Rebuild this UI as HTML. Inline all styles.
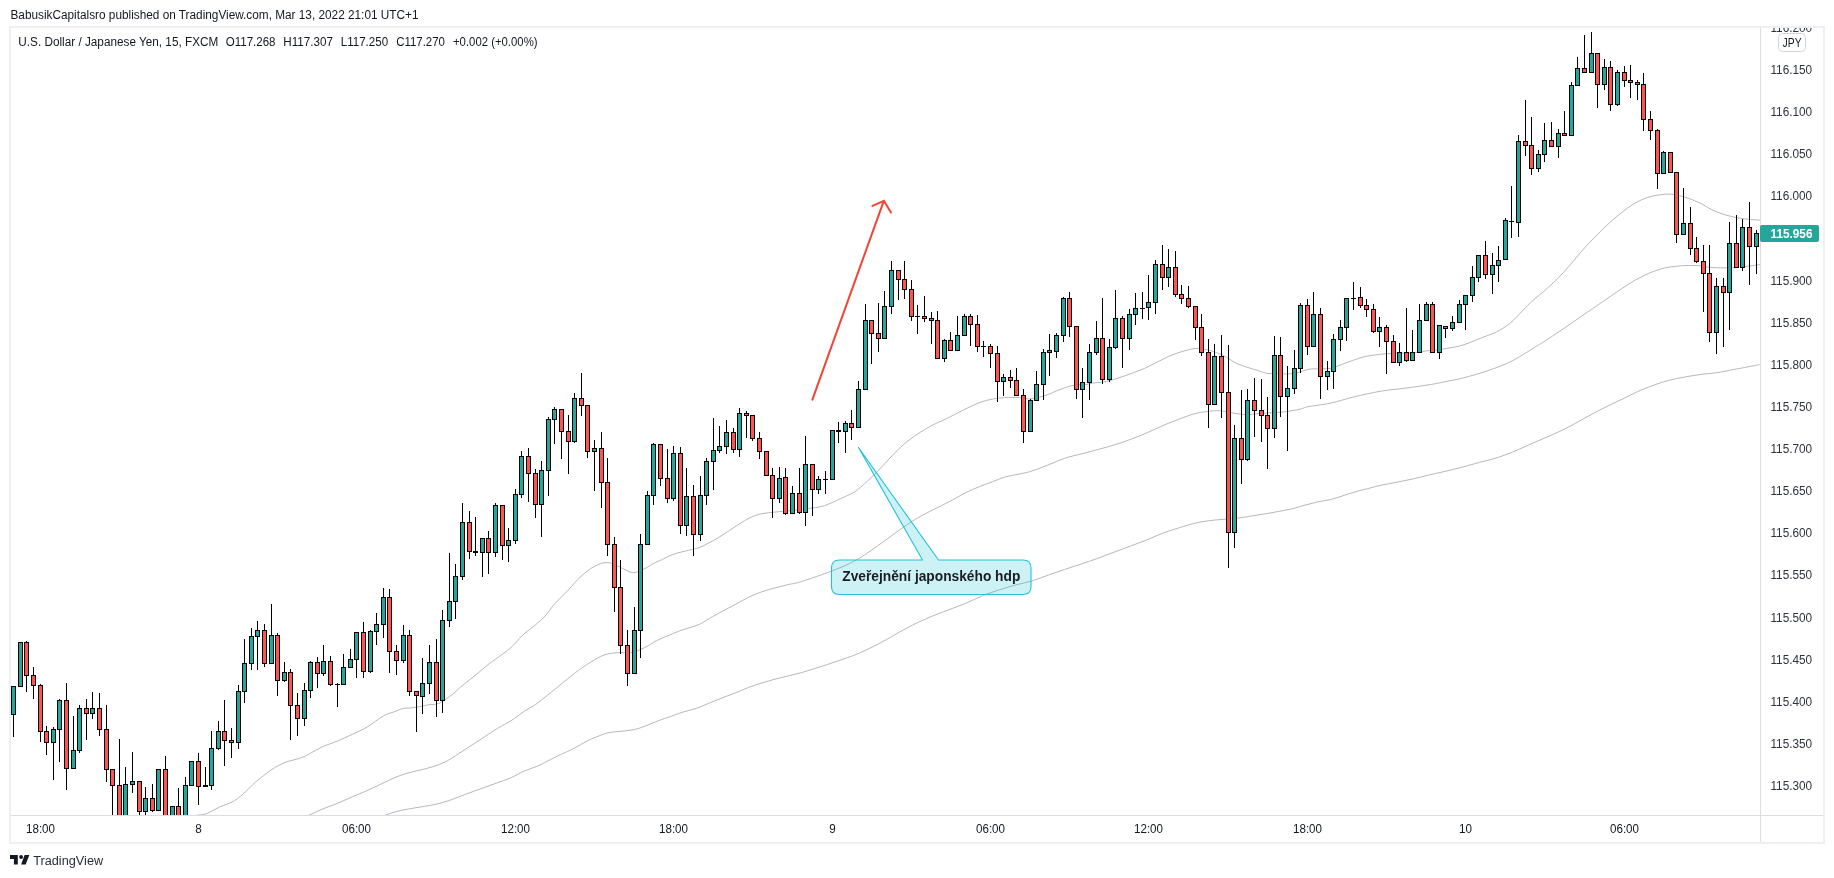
<!DOCTYPE html>
<html><head><meta charset="utf-8"><title>USDJPY</title>
<style>
html,body{margin:0;padding:0;background:#fff;}
body{width:1834px;height:878px;overflow:hidden;position:relative;font-family:"Liberation Sans",sans-serif;}
svg{position:absolute;left:0;top:0;will-change:transform;}
text{font-family:"Liberation Sans",sans-serif;font-size:12px;fill:#131722;}
</style></head><body>
<svg width="1834" height="878" viewBox="0 0 1834 878">
<defs>
<clipPath id="plot"><rect x="11" y="28" width="1749" height="787"/></clipPath>
<clipPath id="paxis"><rect x="1761" y="28" width="62" height="787"/></clipPath>
</defs>
<!-- frame -->
<g shape-rendering="crispEdges">
<rect x="9" y="26" width="1816" height="2" fill="#eeeff4"/>
<rect x="9" y="842" width="1816" height="2" fill="#eeeff4"/>
<rect x="9" y="26" width="2" height="818" fill="#eeeff4"/>
<rect x="1823" y="26" width="2" height="818" fill="#eeeff4"/>
<rect x="1760" y="28" width="1" height="814" fill="#dcdde2"/>
<rect x="11" y="815" width="1812" height="1" fill="#dcdde2"/>
</g>
<!-- header -->
<text x="10.5" y="18.8" textLength="408" lengthAdjust="spacingAndGlyphs">BabusikCapitalsro published on TradingView.com, Mar 13, 2022 21:01 UTC+1</text>
<text x="18.3" y="45.5" textLength="200" lengthAdjust="spacingAndGlyphs">U.S. Dollar / Japanese Yen, 15, FXCM</text>
<text x="225.8" y="45.5" textLength="49.7" lengthAdjust="spacingAndGlyphs">O117.268</text>
<text x="283.3" y="45.5" textLength="49.7" lengthAdjust="spacingAndGlyphs">H117.307</text>
<text x="340.8" y="45.5" textLength="47.3" lengthAdjust="spacingAndGlyphs">L117.250</text>
<text x="396.2" y="45.5" textLength="48.7" lengthAdjust="spacingAndGlyphs">C117.270</text>
<text x="453" y="45.5" textLength="84.5" lengthAdjust="spacingAndGlyphs">+0.002 (+0.00%)</text>
<!-- MAs -->
<g clip-path="url(#plot)"><path d="M186.8,816.9 C188.4,816.6 193.3,815.8 196.6,815.3 C199.9,814.8 202.6,815.1 206.4,813.7 C210.2,812.3 214.8,809.2 219.5,807.1 C224.2,805.0 229.9,803.4 234.3,800.8 C238.7,798.2 242.2,794.6 245.8,791.5 C249.4,788.4 251.2,785.7 255.6,782.0 C260.0,778.3 267.1,772.7 272.0,769.4 C276.9,766.1 281.0,764.1 285.1,762.4 C289.2,760.7 293.3,760.2 296.6,759.2 C299.9,758.2 302.1,757.5 304.8,756.3 C307.5,755.1 309.7,753.5 313.0,751.8 C316.3,750.1 320.4,747.7 324.5,745.9 C328.6,744.1 333.0,742.9 337.6,741.0 C342.2,739.1 347.5,736.6 352.4,734.3 C357.3,732.0 362.0,730.1 367.1,727.0 C372.3,723.9 379.1,718.3 383.5,715.8 C387.9,713.3 390.1,713.3 393.4,712.1 C396.7,710.9 400.2,709.1 403.2,708.4 C406.2,707.7 408.7,708.2 411.4,707.9 C414.1,707.6 416.9,707.2 419.6,706.7 C422.3,706.2 424.5,705.5 427.8,704.9 C431.1,704.3 435.2,705.0 439.3,703.2 C443.4,701.4 448.6,697.3 452.4,694.4 C456.2,691.4 458.2,689.1 462.3,685.7 C466.4,682.3 472.4,677.7 476.9,674.0 C481.4,670.3 485.0,667.0 489.2,663.7 C493.4,660.4 498.5,657.2 502.3,654.3 C506.1,651.4 508.9,649.6 512.2,646.5 C515.5,643.4 518.2,639.4 522.0,635.8 C525.8,632.2 531.3,628.4 535.1,625.2 C538.9,621.9 541.7,619.7 545.0,616.1 C548.3,612.5 551.0,608.1 554.8,603.8 C558.6,599.5 563.6,594.9 568.0,590.3 C572.3,585.7 576.7,580.3 581.0,576.4 C585.4,572.4 589.8,568.8 594.2,566.5 C598.6,564.1 602.9,562.4 607.3,562.5 C611.7,562.6 616.2,565.7 620.4,567.3 C624.6,569.0 628.6,572.4 632.8,572.6 C636.9,572.9 641.6,570.1 645.0,568.5 C648.4,567.0 650.5,565.0 653.2,563.6 C655.9,562.2 658.1,561.4 661.4,559.9 C664.7,558.4 668.3,556.1 672.9,554.5 C677.6,552.8 684.9,551.2 689.3,550.1 C693.7,549.0 695.8,548.9 699.1,547.7 C702.4,546.5 705.7,544.5 709.0,542.8 C712.3,541.1 715.3,539.5 718.8,537.4 C722.3,535.3 726.3,532.5 729.8,530.2 C733.3,527.9 736.4,525.8 739.7,523.7 C743.0,521.7 746.2,519.5 749.5,517.9 C752.8,516.3 756.1,515.2 759.4,514.3 C762.7,513.4 765.4,513.2 769.2,512.7 C773.0,512.2 777.9,511.8 782.3,511.4 C786.7,511.0 791.0,510.7 795.4,510.2 C799.8,509.7 804.2,509.0 808.6,508.4 C813.0,507.8 817.9,507.4 821.7,506.5 C825.5,505.6 828.2,504.2 831.5,502.8 C834.8,501.4 837.6,500.0 841.4,498.2 C845.2,496.4 850.1,494.7 854.5,491.9 C858.9,489.0 863.2,485.0 867.6,481.0 C872.0,477.0 876.4,472.4 880.8,467.9 C885.1,463.4 889.5,458.3 893.9,453.9 C898.2,449.6 902.6,445.2 907.0,441.6 C911.4,438.1 915.7,435.2 920.1,432.4 C924.5,429.6 929.4,426.8 933.2,424.8 C937.0,422.8 939.8,421.9 943.1,420.3 C946.4,418.7 949.1,417.3 952.9,415.4 C956.7,413.5 961.6,410.8 966.0,408.7 C970.4,406.6 975.3,404.3 979.1,402.8 C982.9,401.3 985.7,400.6 989.0,399.8 C992.3,399.0 995.5,398.6 998.8,398.2 C1002.1,397.8 1005.2,397.5 1008.7,397.4 C1012.2,397.3 1016.2,397.4 1019.7,397.7 C1023.2,397.9 1026.2,399.0 1029.5,398.9 C1032.8,398.8 1036.1,398.0 1039.4,397.2 C1042.7,396.4 1045.9,395.2 1049.2,394.0 C1052.5,392.8 1055.2,391.3 1059.0,389.9 C1062.8,388.5 1067.8,386.5 1072.2,385.6 C1076.5,384.7 1081.5,385.1 1085.3,384.6 C1089.1,384.1 1091.8,383.3 1095.1,382.8 C1098.4,382.3 1101.7,382.3 1105.0,381.7 C1108.3,381.1 1111.5,380.2 1114.8,379.2 C1118.1,378.2 1121.4,377.0 1124.7,375.9 C1128.0,374.8 1131.2,373.5 1134.5,372.3 C1137.8,371.1 1141.0,369.9 1144.3,368.5 C1147.6,367.1 1150.9,365.2 1154.2,363.6 C1157.5,362.0 1160.7,360.2 1164.0,358.7 C1167.3,357.1 1170.1,355.7 1173.9,354.3 C1177.7,352.9 1183.2,351.2 1187.0,350.2 C1190.8,349.2 1193.0,348.4 1196.8,348.5 C1200.6,348.6 1205.6,349.4 1210.0,350.5 C1214.3,351.6 1218.7,353.2 1223.0,355.3 C1227.4,357.4 1232.4,361.3 1236.2,363.2 C1240.0,365.1 1242.2,365.6 1246.0,366.9 C1249.8,368.2 1255.6,369.8 1259.2,370.9 C1262.7,372.0 1264.6,373.1 1267.3,373.5 C1270.0,373.9 1272.5,372.9 1275.5,373.0 C1278.5,373.1 1281.9,374.0 1285.4,374.0 C1288.9,374.0 1292.4,373.7 1296.4,372.9 C1300.4,372.1 1305.1,369.8 1309.5,369.1 C1313.9,368.5 1318.8,369.0 1322.6,368.8 C1326.4,368.6 1329.2,368.6 1332.5,367.9 C1335.8,367.1 1339.0,365.5 1342.3,364.3 C1345.6,363.1 1348.4,361.9 1352.2,360.6 C1356.0,359.3 1360.9,357.5 1365.3,356.5 C1369.7,355.5 1374.0,355.0 1378.4,354.5 C1382.8,354.0 1387.1,353.7 1391.5,353.5 C1395.9,353.3 1400.3,353.4 1404.7,353.2 C1409.1,353.0 1414.0,352.8 1417.8,352.4 C1421.6,352.0 1424.3,351.1 1427.6,350.7 C1430.9,350.3 1434.2,350.3 1437.5,349.9 C1440.8,349.5 1444.0,348.8 1447.3,348.2 C1450.6,347.6 1453.8,347.4 1457.1,346.6 C1460.4,345.9 1463.7,344.9 1467.0,343.7 C1470.3,342.5 1473.5,341.0 1476.8,339.7 C1480.1,338.4 1483.4,337.2 1486.7,335.9 C1490.0,334.6 1492.7,333.8 1496.5,331.8 C1500.3,329.8 1505.2,327.2 1509.6,323.6 C1514.0,320.1 1518.9,314.3 1522.7,310.5 C1526.5,306.7 1529.1,303.9 1532.6,300.7 C1536.1,297.5 1540.3,294.4 1543.8,291.4 C1547.3,288.3 1550.4,285.5 1553.7,282.4 C1557.0,279.2 1560.2,276.1 1563.5,272.5 C1566.8,268.9 1570.1,264.8 1573.4,261.0 C1576.7,257.2 1579.9,253.2 1583.2,249.5 C1586.5,245.8 1589.7,242.3 1593.0,238.9 C1596.3,235.5 1599.6,232.2 1602.9,229.0 C1606.2,225.8 1609.4,222.9 1612.7,220.0 C1616.0,217.1 1619.3,214.3 1622.6,211.8 C1625.9,209.3 1629.1,206.9 1632.4,204.8 C1635.7,202.8 1638.9,200.9 1642.2,199.5 C1645.5,198.1 1648.8,197.0 1652.1,196.2 C1655.4,195.4 1658.9,194.9 1661.9,194.6 C1664.9,194.2 1667.4,194.0 1670.1,194.1 C1672.8,194.2 1675.3,194.7 1678.3,195.4 C1681.3,196.1 1684.4,196.8 1688.2,198.2 C1692.0,199.6 1697.5,201.8 1701.3,203.7 C1705.1,205.5 1707.8,207.8 1711.1,209.4 C1714.4,211.0 1717.7,212.3 1721.0,213.5 C1724.3,214.7 1727.5,215.5 1730.8,216.3 C1734.1,217.1 1737.4,217.9 1740.7,218.4 C1744.0,218.9 1747.2,219.2 1750.5,219.5 C1753.8,219.8 1758.7,220.1 1760.3,220.2" fill="none" stroke="#b6b6be" stroke-width="1" stroke-linejoin="round"/><path d="M296.6,821.0 C298.6,820.0 304.8,817.2 308.9,815.3 C313.0,813.4 316.4,811.6 321.2,809.6 C326.0,807.6 332.1,805.5 337.6,803.3 C343.1,801.0 348.5,798.5 354.0,796.1 C359.5,793.7 363.9,792.1 370.4,789.1 C376.9,786.1 387.1,781.0 393.1,778.4 C399.1,775.8 401.8,774.9 406.2,773.5 C410.6,772.1 415.0,771.3 419.4,770.2 C423.8,769.1 428.1,768.2 432.5,766.8 C436.9,765.3 441.8,763.5 445.6,761.7 C449.4,759.9 451.6,758.2 455.4,755.8 C459.2,753.4 464.2,750.1 468.6,747.2 C473.0,744.4 477.3,741.6 481.7,738.7 C486.1,735.8 491.0,732.4 494.8,730.0 C498.6,727.6 501.4,726.2 504.7,724.3 C508.0,722.4 511.2,720.7 514.5,718.5 C517.8,716.3 521.0,713.4 524.3,711.2 C527.6,709.0 530.9,707.6 534.2,705.4 C537.5,703.2 537.4,703.2 544.0,698.0 C550.6,692.8 567.5,678.9 573.7,674.0 C579.9,669.1 578.2,670.6 581.1,668.6 C584.0,666.6 587.1,664.3 590.9,662.0 C594.7,659.7 599.6,656.6 604.0,655.0 C608.4,653.5 612.8,653.1 617.1,652.7 C621.5,652.3 626.4,653.1 630.2,652.6 C634.1,652.1 637.1,650.9 640.1,649.7 C643.1,648.5 645.6,647.1 648.3,645.6 C651.0,644.1 653.0,642.5 656.5,640.7 C660.0,638.9 665.7,636.6 669.6,635.0 C673.5,633.4 676.4,632.0 679.8,630.8 C683.1,629.6 686.4,628.7 689.7,627.6 C693.0,626.5 696.2,625.8 699.5,624.3 C702.8,622.8 705.6,620.7 709.4,618.5 C713.2,616.3 718.1,613.6 722.5,611.2 C726.9,608.8 731.2,606.6 735.6,604.3 C740.0,602.0 744.3,599.3 748.7,597.2 C753.1,595.1 757.4,593.3 761.8,591.8 C766.2,590.2 770.6,589.1 775.0,587.9 C779.4,586.7 783.7,585.6 788.1,584.6 C792.5,583.6 793.8,583.9 801.2,581.6 C808.6,579.3 823.2,574.4 832.7,570.6 C842.2,566.9 849.5,563.9 857.9,559.1 C866.3,554.3 876.5,546.6 883.0,542.0 C889.5,537.4 892.6,535.0 897.1,531.7 C901.7,528.5 906.5,525.0 910.3,522.5 C914.1,520.0 916.3,518.7 920.1,516.6 C923.9,514.5 928.3,512.2 933.2,509.7 C938.1,507.2 944.1,504.4 949.6,501.5 C955.1,498.6 961.1,494.9 966.0,492.5 C970.9,490.1 974.7,488.6 979.1,486.8 C983.5,485.0 987.9,483.5 992.3,481.8 C996.7,480.1 1000.8,478.2 1005.4,476.9 C1010.0,475.6 1015.1,475.0 1019.7,474.0 C1024.3,473.0 1027.9,472.3 1032.8,470.7 C1037.7,469.1 1043.7,466.6 1049.2,464.5 C1054.7,462.4 1060.1,459.7 1065.6,457.9 C1071.1,456.1 1076.5,455.2 1082.0,453.8 C1087.5,452.4 1092.9,450.9 1098.4,449.4 C1103.9,447.9 1109.3,446.5 1114.8,444.8 C1120.3,443.1 1125.7,441.2 1131.2,439.1 C1136.7,437.1 1142.1,434.8 1147.6,432.5 C1153.1,430.2 1158.5,427.4 1164.0,425.1 C1169.5,422.8 1175.5,420.5 1180.4,418.6 C1185.3,416.8 1189.7,415.1 1193.5,414.0 C1197.3,412.9 1199.6,412.6 1203.4,412.0 C1207.2,411.4 1212.7,410.8 1216.5,410.7 C1220.3,410.6 1223.0,411.2 1226.3,411.7 C1229.6,412.2 1232.9,413.1 1236.2,413.6 C1239.5,414.1 1242.2,414.5 1246.0,414.5 C1249.8,414.5 1254.7,413.9 1259.1,413.6 C1263.5,413.3 1267.9,413.1 1272.3,412.8 C1276.7,412.5 1280.8,412.3 1285.4,411.7 C1290.0,411.1 1296.2,410.0 1300.0,409.2 C1303.8,408.4 1303.0,407.7 1308.2,406.7 C1313.4,405.7 1323.5,404.6 1331.1,403.0 C1338.7,401.4 1345.6,398.9 1354.0,396.9 C1362.4,394.9 1372.3,392.6 1381.5,391.1 C1390.7,389.6 1400.4,388.9 1409.0,387.7 C1417.6,386.5 1427.2,385.1 1433.1,384.1 C1438.9,383.2 1439.4,382.8 1444.0,381.9 C1448.6,381.0 1454.9,379.9 1460.4,378.6 C1465.9,377.3 1471.3,375.8 1476.8,374.2 C1482.3,372.6 1487.7,370.8 1493.2,368.8 C1498.7,366.8 1504.7,364.5 1509.6,362.2 C1514.5,359.9 1518.3,357.4 1522.7,354.8 C1527.1,352.2 1531.5,349.3 1535.9,346.6 C1540.3,343.9 1540.8,343.8 1549.0,338.4 C1557.2,333.0 1576.9,319.4 1584.8,314.0 C1592.7,308.6 1592.2,308.9 1596.3,306.1 C1600.4,303.3 1605.0,300.1 1609.4,297.1 C1613.8,294.1 1618.2,291.0 1622.6,288.1 C1627.0,285.2 1631.3,282.4 1635.7,279.9 C1640.1,277.4 1644.4,275.2 1648.8,273.3 C1653.2,271.4 1658.1,269.8 1661.9,268.7 C1665.7,267.6 1668.0,267.3 1671.8,266.8 C1675.6,266.3 1680.5,265.8 1684.9,265.6 C1689.3,265.4 1694.2,265.4 1698.0,265.6 C1701.8,265.9 1704.6,266.7 1707.9,267.1 C1711.2,267.5 1714.4,267.7 1717.7,267.8 C1721.0,267.9 1724.2,267.9 1727.5,267.8 C1730.8,267.7 1734.1,267.4 1737.4,267.1 C1740.7,266.9 1743.4,266.7 1747.2,266.3 C1751.0,265.9 1758.1,264.9 1760.3,264.6" fill="none" stroke="#b6b6be" stroke-width="1" stroke-linejoin="round"/><path d="M373.4,819.1 C375.3,818.5 381.1,816.6 384.9,815.3 C388.7,814.0 392.3,812.6 396.4,811.5 C400.5,810.4 405.1,809.6 409.5,808.8 C413.9,808.0 418.2,807.4 422.6,806.6 C427.0,805.9 431.4,805.3 435.8,804.3 C440.2,803.3 444.5,802.0 448.9,800.6 C453.3,799.2 457.1,797.4 462.0,795.6 C466.9,793.8 472.9,791.6 478.4,789.6 C483.9,787.6 489.3,785.7 494.8,783.7 C500.3,781.7 506.3,779.7 511.2,777.6 C516.1,775.5 519.9,772.9 524.3,771.0 C528.7,769.1 533.1,768.0 537.5,766.1 C541.9,764.2 546.8,761.4 550.6,759.5 C554.4,757.6 557.1,756.1 560.4,754.6 C563.7,753.1 566.5,752.1 570.3,750.2 C574.1,748.3 579.6,745.1 583.4,743.1 C587.2,741.1 589.4,739.8 593.2,738.2 C597.0,736.6 602.5,734.4 606.3,733.3 C610.1,732.2 612.9,732.1 616.2,731.7 C619.5,731.3 622.7,731.2 626.0,730.8 C629.3,730.4 632.6,730.0 635.9,729.2 C639.2,728.4 642.4,727.1 645.7,725.9 C649.0,724.7 651.8,723.2 655.5,721.8 C659.2,720.4 663.1,719.1 667.7,717.5 C672.3,715.9 678.4,713.5 683.1,712.0 C687.9,710.5 691.8,709.9 696.2,708.4 C700.6,706.9 705.0,704.8 709.4,703.0 C713.8,701.2 718.1,699.5 722.5,697.8 C726.9,696.1 731.2,694.5 735.6,692.8 C740.0,691.1 744.3,689.0 748.7,687.4 C753.1,685.8 757.4,684.4 761.8,683.0 C766.2,681.6 770.6,680.4 775.0,679.2 C779.4,678.0 783.7,677.0 788.1,675.9 C792.5,674.8 796.8,673.9 801.2,672.7 C805.6,671.5 809.9,670.0 814.3,668.6 C818.7,667.2 823.1,665.9 827.5,664.5 C831.9,663.1 836.2,661.5 840.6,660.0 C845.0,658.5 849.3,657.1 853.7,655.4 C858.1,653.7 862.4,651.8 866.8,649.7 C871.2,647.7 875.5,645.4 879.9,643.1 C884.3,640.8 888.7,638.2 893.1,635.8 C897.5,633.3 901.8,630.7 906.2,628.4 C910.6,626.1 914.9,623.8 919.3,621.8 C923.7,619.8 927.7,618.0 932.4,616.1 C937.1,614.2 942.1,612.4 947.8,610.2 C953.4,608.0 960.6,605.4 966.4,603.0 C972.2,600.6 977.3,597.8 982.8,595.6 C988.3,593.4 993.7,591.7 999.2,589.9 C1004.7,588.1 1010.1,586.5 1015.6,585.0 C1021.1,583.5 1026.5,582.5 1032.0,580.9 C1037.5,579.2 1042.9,577.0 1048.4,575.1 C1053.9,573.2 1059.3,571.2 1064.8,569.4 C1070.3,567.5 1075.7,565.8 1081.2,564.0 C1086.7,562.2 1092.1,560.4 1097.6,558.4 C1103.1,556.4 1108.5,554.2 1114.0,552.2 C1119.5,550.2 1124.9,548.2 1130.4,546.1 C1135.9,544.0 1141.3,542.1 1146.8,539.9 C1152.3,537.7 1157.7,535.0 1163.2,533.0 C1168.7,531.0 1174.1,529.3 1179.6,527.6 C1185.1,525.9 1191.1,524.1 1196.0,523.0 C1200.9,521.9 1204.6,521.3 1209.1,520.7 C1213.6,520.1 1217.9,519.8 1223.0,519.4 C1228.0,518.9 1234.5,518.5 1239.4,517.9 C1244.3,517.3 1248.1,516.5 1252.5,515.8 C1256.9,515.1 1261.2,514.5 1265.6,513.8 C1270.0,513.1 1274.3,512.2 1278.7,511.4 C1283.1,510.6 1287.4,509.9 1291.8,508.9 C1296.2,507.8 1300.6,506.3 1305.0,505.1 C1309.4,503.9 1313.7,502.8 1318.1,501.8 C1322.5,500.9 1326.8,500.5 1331.2,499.4 C1335.6,498.3 1339.9,496.7 1344.3,495.3 C1348.7,493.9 1353.1,492.4 1357.5,491.2 C1361.9,490.0 1366.8,488.9 1370.6,487.9 C1374.4,486.9 1376.0,486.3 1380.4,485.4 C1384.8,484.4 1391.3,483.3 1396.8,482.2 C1402.3,481.1 1407.7,480.1 1413.2,478.9 C1418.7,477.7 1424.1,476.1 1429.6,474.8 C1435.1,473.5 1440.5,472.5 1446.0,471.2 C1451.5,469.9 1456.8,468.6 1462.4,467.1 C1468.0,465.6 1474.3,463.8 1479.4,462.4 C1484.5,461.1 1488.6,460.2 1493.1,458.9 C1497.6,457.6 1501.8,456.1 1506.2,454.5 C1510.6,452.9 1515.0,451.0 1519.4,449.1 C1523.8,447.2 1528.1,445.2 1532.5,443.3 C1536.9,441.4 1541.2,439.5 1545.6,437.6 C1550.0,435.7 1554.3,433.9 1558.7,431.8 C1563.1,429.8 1567.4,427.6 1571.8,425.3 C1576.2,423.0 1580.6,420.3 1585.0,417.9 C1589.4,415.5 1593.7,413.2 1598.1,410.9 C1602.5,408.6 1606.8,406.4 1611.2,404.3 C1615.6,402.2 1619.9,400.3 1624.3,398.2 C1628.7,396.1 1633.1,393.7 1637.5,391.7 C1641.9,389.7 1646.2,387.9 1650.6,386.3 C1655.0,384.7 1659.3,383.1 1663.7,381.8 C1668.1,380.5 1672.4,379.4 1676.8,378.5 C1681.2,377.6 1685.5,376.8 1689.9,376.1 C1694.3,375.4 1698.7,374.7 1703.1,374.1 C1707.5,373.6 1711.8,373.4 1716.2,372.8 C1720.6,372.2 1724.9,371.1 1729.3,370.3 C1733.7,369.5 1737.4,368.8 1742.4,367.9 C1747.5,366.9 1756.7,365.2 1759.6,364.6" fill="none" stroke="#b6b6be" stroke-width="1" stroke-linejoin="round"/></g>
<!-- candles -->
<g clip-path="url(#plot)" shape-rendering="crispEdges">
<rect x="13" y="686" width="1" height="51" fill="#000"/>
<rect x="11" y="686" width="5" height="29" fill="#000"/>
<rect x="12" y="687" width="3" height="27" fill="#26a69a"/>
<rect x="20" y="642" width="1" height="45" fill="#000"/>
<rect x="18" y="642" width="5" height="45" fill="#000"/>
<rect x="19" y="643" width="3" height="43" fill="#26a69a"/>
<rect x="26" y="641" width="1" height="51" fill="#000"/>
<rect x="24" y="642" width="5" height="34" fill="#000"/>
<rect x="25" y="643" width="3" height="32" fill="#ff5252"/>
<rect x="33" y="667" width="1" height="32" fill="#000"/>
<rect x="31" y="675" width="5" height="11" fill="#000"/>
<rect x="32" y="676" width="3" height="9" fill="#ff5252"/>
<rect x="40" y="684" width="1" height="58" fill="#000"/>
<rect x="38" y="685" width="5" height="47" fill="#000"/>
<rect x="39" y="686" width="3" height="45" fill="#ff5252"/>
<rect x="46" y="726" width="1" height="29" fill="#000"/>
<rect x="44" y="731" width="5" height="12" fill="#000"/>
<rect x="45" y="732" width="3" height="10" fill="#ff5252"/>
<rect x="53" y="727" width="1" height="53" fill="#000"/>
<rect x="51" y="729" width="5" height="14" fill="#000"/>
<rect x="52" y="730" width="3" height="12" fill="#26a69a"/>
<rect x="59" y="699" width="1" height="63" fill="#000"/>
<rect x="57" y="700" width="5" height="30" fill="#000"/>
<rect x="58" y="701" width="3" height="28" fill="#26a69a"/>
<rect x="66" y="683" width="1" height="107" fill="#000"/>
<rect x="64" y="700" width="5" height="69" fill="#000"/>
<rect x="65" y="701" width="3" height="67" fill="#ff5252"/>
<rect x="73" y="716" width="1" height="53" fill="#000"/>
<rect x="71" y="750" width="5" height="19" fill="#000"/>
<rect x="72" y="751" width="3" height="17" fill="#26a69a"/>
<rect x="79" y="705" width="1" height="48" fill="#000"/>
<rect x="77" y="708" width="5" height="43" fill="#000"/>
<rect x="78" y="709" width="3" height="41" fill="#26a69a"/>
<rect x="86" y="699" width="1" height="41" fill="#000"/>
<rect x="84" y="708" width="5" height="6" fill="#000"/>
<rect x="85" y="709" width="3" height="4" fill="#ff5252"/>
<rect x="92" y="692" width="1" height="27" fill="#000"/>
<rect x="90" y="708" width="5" height="6" fill="#000"/>
<rect x="91" y="709" width="3" height="4" fill="#26a69a"/>
<rect x="99" y="693" width="1" height="43" fill="#000"/>
<rect x="97" y="708" width="5" height="22" fill="#000"/>
<rect x="98" y="709" width="3" height="20" fill="#ff5252"/>
<rect x="106" y="705" width="1" height="77" fill="#000"/>
<rect x="104" y="729" width="5" height="41" fill="#000"/>
<rect x="105" y="730" width="3" height="39" fill="#ff5252"/>
<rect x="112" y="769" width="1" height="62" fill="#000"/>
<rect x="110" y="769" width="5" height="17" fill="#000"/>
<rect x="111" y="770" width="3" height="15" fill="#ff5252"/>
<rect x="119" y="739" width="1" height="92" fill="#000"/>
<rect x="117" y="785" width="5" height="46" fill="#000"/>
<rect x="118" y="786" width="3" height="44" fill="#ff5252"/>
<rect x="125" y="767" width="1" height="64" fill="#000"/>
<rect x="123" y="784" width="5" height="47" fill="#000"/>
<rect x="124" y="785" width="3" height="45" fill="#26a69a"/>
<rect x="132" y="752" width="1" height="41" fill="#000"/>
<rect x="130" y="781" width="5" height="4" fill="#000"/>
<rect x="131" y="782" width="3" height="2" fill="#26a69a"/>
<rect x="139" y="781" width="1" height="34" fill="#000"/>
<rect x="137" y="781" width="5" height="31" fill="#000"/>
<rect x="138" y="782" width="3" height="29" fill="#ff5252"/>
<rect x="145" y="787" width="1" height="28" fill="#000"/>
<rect x="143" y="798" width="5" height="14" fill="#000"/>
<rect x="144" y="799" width="3" height="12" fill="#26a69a"/>
<rect x="152" y="784" width="1" height="28" fill="#000"/>
<rect x="150" y="798" width="5" height="13" fill="#000"/>
<rect x="151" y="799" width="3" height="11" fill="#ff5252"/>
<rect x="158" y="769" width="1" height="42" fill="#000"/>
<rect x="156" y="769" width="5" height="42" fill="#000"/>
<rect x="157" y="770" width="3" height="40" fill="#26a69a"/>
<rect x="165" y="756" width="1" height="75" fill="#000"/>
<rect x="163" y="769" width="5" height="62" fill="#000"/>
<rect x="164" y="770" width="3" height="60" fill="#ff5252"/>
<rect x="172" y="806" width="1" height="25" fill="#000"/>
<rect x="170" y="806" width="5" height="25" fill="#000"/>
<rect x="171" y="807" width="3" height="23" fill="#26a69a"/>
<rect x="178" y="788" width="1" height="43" fill="#000"/>
<rect x="176" y="806" width="5" height="25" fill="#000"/>
<rect x="177" y="807" width="3" height="23" fill="#ff5252"/>
<rect x="185" y="777" width="1" height="54" fill="#000"/>
<rect x="183" y="785" width="5" height="46" fill="#000"/>
<rect x="184" y="786" width="3" height="44" fill="#26a69a"/>
<rect x="191" y="761" width="1" height="25" fill="#000"/>
<rect x="189" y="761" width="5" height="25" fill="#000"/>
<rect x="190" y="762" width="3" height="23" fill="#26a69a"/>
<rect x="198" y="753" width="1" height="52" fill="#000"/>
<rect x="196" y="761" width="5" height="26" fill="#000"/>
<rect x="197" y="762" width="3" height="24" fill="#ff5252"/>
<rect x="205" y="767" width="1" height="20" fill="#000"/>
<rect x="203" y="785" width="5" height="2" fill="#000"/>
<rect x="211" y="731" width="1" height="59" fill="#000"/>
<rect x="209" y="748" width="5" height="38" fill="#000"/>
<rect x="210" y="749" width="3" height="36" fill="#26a69a"/>
<rect x="218" y="721" width="1" height="29" fill="#000"/>
<rect x="216" y="731" width="5" height="18" fill="#000"/>
<rect x="217" y="732" width="3" height="16" fill="#26a69a"/>
<rect x="224" y="700" width="1" height="66" fill="#000"/>
<rect x="222" y="731" width="5" height="10" fill="#000"/>
<rect x="223" y="732" width="3" height="8" fill="#ff5252"/>
<rect x="231" y="728" width="1" height="30" fill="#000"/>
<rect x="229" y="740" width="5" height="3" fill="#000"/>
<rect x="230" y="741" width="3" height="1" fill="#ff5252"/>
<rect x="238" y="685" width="1" height="64" fill="#000"/>
<rect x="236" y="691" width="5" height="52" fill="#000"/>
<rect x="237" y="692" width="3" height="50" fill="#26a69a"/>
<rect x="244" y="639" width="1" height="64" fill="#000"/>
<rect x="242" y="663" width="5" height="29" fill="#000"/>
<rect x="243" y="664" width="3" height="27" fill="#26a69a"/>
<rect x="251" y="628" width="1" height="42" fill="#000"/>
<rect x="249" y="636" width="5" height="28" fill="#000"/>
<rect x="250" y="637" width="3" height="26" fill="#26a69a"/>
<rect x="257" y="621" width="1" height="49" fill="#000"/>
<rect x="255" y="630" width="5" height="7" fill="#000"/>
<rect x="256" y="631" width="3" height="5" fill="#26a69a"/>
<rect x="264" y="624" width="1" height="43" fill="#000"/>
<rect x="262" y="630" width="5" height="34" fill="#000"/>
<rect x="263" y="631" width="3" height="32" fill="#ff5252"/>
<rect x="271" y="604" width="1" height="60" fill="#000"/>
<rect x="269" y="635" width="5" height="29" fill="#000"/>
<rect x="270" y="636" width="3" height="27" fill="#26a69a"/>
<rect x="277" y="633" width="1" height="63" fill="#000"/>
<rect x="275" y="635" width="5" height="46" fill="#000"/>
<rect x="276" y="636" width="3" height="44" fill="#ff5252"/>
<rect x="284" y="662" width="1" height="20" fill="#000"/>
<rect x="282" y="672" width="5" height="9" fill="#000"/>
<rect x="283" y="673" width="3" height="7" fill="#26a69a"/>
<rect x="290" y="669" width="1" height="71" fill="#000"/>
<rect x="288" y="672" width="5" height="34" fill="#000"/>
<rect x="289" y="673" width="3" height="32" fill="#ff5252"/>
<rect x="297" y="693" width="1" height="43" fill="#000"/>
<rect x="295" y="705" width="5" height="14" fill="#000"/>
<rect x="296" y="706" width="3" height="12" fill="#ff5252"/>
<rect x="304" y="683" width="1" height="43" fill="#000"/>
<rect x="302" y="690" width="5" height="29" fill="#000"/>
<rect x="303" y="691" width="3" height="27" fill="#26a69a"/>
<rect x="310" y="661" width="1" height="37" fill="#000"/>
<rect x="308" y="662" width="5" height="29" fill="#000"/>
<rect x="309" y="663" width="3" height="27" fill="#26a69a"/>
<rect x="317" y="657" width="1" height="31" fill="#000"/>
<rect x="315" y="662" width="5" height="12" fill="#000"/>
<rect x="316" y="663" width="3" height="10" fill="#ff5252"/>
<rect x="323" y="645" width="1" height="31" fill="#000"/>
<rect x="321" y="661" width="5" height="13" fill="#000"/>
<rect x="322" y="662" width="3" height="11" fill="#26a69a"/>
<rect x="330" y="656" width="1" height="30" fill="#000"/>
<rect x="328" y="661" width="5" height="24" fill="#000"/>
<rect x="329" y="662" width="3" height="22" fill="#ff5252"/>
<rect x="337" y="683" width="1" height="24" fill="#000"/>
<rect x="335" y="684" width="5" height="1" fill="#000"/>
<rect x="343" y="654" width="1" height="31" fill="#000"/>
<rect x="341" y="667" width="5" height="18" fill="#000"/>
<rect x="342" y="668" width="3" height="16" fill="#26a69a"/>
<rect x="350" y="649" width="1" height="19" fill="#000"/>
<rect x="348" y="659" width="5" height="9" fill="#000"/>
<rect x="349" y="660" width="3" height="7" fill="#26a69a"/>
<rect x="356" y="632" width="1" height="46" fill="#000"/>
<rect x="354" y="632" width="5" height="28" fill="#000"/>
<rect x="355" y="633" width="3" height="26" fill="#26a69a"/>
<rect x="363" y="622" width="1" height="56" fill="#000"/>
<rect x="361" y="632" width="5" height="40" fill="#000"/>
<rect x="362" y="633" width="3" height="38" fill="#ff5252"/>
<rect x="370" y="630" width="1" height="43" fill="#000"/>
<rect x="368" y="631" width="5" height="41" fill="#000"/>
<rect x="369" y="632" width="3" height="39" fill="#26a69a"/>
<rect x="376" y="613" width="1" height="32" fill="#000"/>
<rect x="374" y="624" width="5" height="8" fill="#000"/>
<rect x="375" y="625" width="3" height="6" fill="#26a69a"/>
<rect x="383" y="588" width="1" height="50" fill="#000"/>
<rect x="381" y="597" width="5" height="28" fill="#000"/>
<rect x="382" y="598" width="3" height="26" fill="#26a69a"/>
<rect x="389" y="589" width="1" height="84" fill="#000"/>
<rect x="387" y="597" width="5" height="55" fill="#000"/>
<rect x="388" y="598" width="3" height="53" fill="#ff5252"/>
<rect x="396" y="645" width="1" height="30" fill="#000"/>
<rect x="394" y="651" width="5" height="10" fill="#000"/>
<rect x="395" y="652" width="3" height="8" fill="#ff5252"/>
<rect x="403" y="625" width="1" height="38" fill="#000"/>
<rect x="401" y="635" width="5" height="26" fill="#000"/>
<rect x="402" y="636" width="3" height="24" fill="#26a69a"/>
<rect x="409" y="630" width="1" height="66" fill="#000"/>
<rect x="407" y="635" width="5" height="57" fill="#000"/>
<rect x="408" y="636" width="3" height="55" fill="#ff5252"/>
<rect x="416" y="691" width="1" height="41" fill="#000"/>
<rect x="414" y="691" width="5" height="5" fill="#000"/>
<rect x="415" y="692" width="3" height="3" fill="#ff5252"/>
<rect x="422" y="658" width="1" height="56" fill="#000"/>
<rect x="420" y="683" width="5" height="14" fill="#000"/>
<rect x="421" y="684" width="3" height="12" fill="#26a69a"/>
<rect x="429" y="645" width="1" height="49" fill="#000"/>
<rect x="427" y="662" width="5" height="22" fill="#000"/>
<rect x="428" y="663" width="3" height="20" fill="#26a69a"/>
<rect x="436" y="639" width="1" height="78" fill="#000"/>
<rect x="434" y="662" width="5" height="39" fill="#000"/>
<rect x="435" y="663" width="3" height="37" fill="#ff5252"/>
<rect x="442" y="610" width="1" height="103" fill="#000"/>
<rect x="440" y="620" width="5" height="81" fill="#000"/>
<rect x="441" y="621" width="3" height="79" fill="#26a69a"/>
<rect x="449" y="553" width="1" height="74" fill="#000"/>
<rect x="447" y="601" width="5" height="20" fill="#000"/>
<rect x="448" y="602" width="3" height="18" fill="#26a69a"/>
<rect x="455" y="564" width="1" height="55" fill="#000"/>
<rect x="453" y="576" width="5" height="26" fill="#000"/>
<rect x="454" y="577" width="3" height="24" fill="#26a69a"/>
<rect x="462" y="503" width="1" height="77" fill="#000"/>
<rect x="460" y="522" width="5" height="55" fill="#000"/>
<rect x="461" y="523" width="3" height="53" fill="#26a69a"/>
<rect x="469" y="511" width="1" height="48" fill="#000"/>
<rect x="467" y="522" width="5" height="30" fill="#000"/>
<rect x="468" y="523" width="3" height="28" fill="#ff5252"/>
<rect x="475" y="517" width="1" height="39" fill="#000"/>
<rect x="473" y="551" width="5" height="2" fill="#000"/>
<rect x="482" y="538" width="1" height="39" fill="#000"/>
<rect x="480" y="538" width="5" height="15" fill="#000"/>
<rect x="481" y="539" width="3" height="13" fill="#26a69a"/>
<rect x="488" y="531" width="1" height="43" fill="#000"/>
<rect x="486" y="538" width="5" height="15" fill="#000"/>
<rect x="487" y="539" width="3" height="13" fill="#ff5252"/>
<rect x="495" y="503" width="1" height="54" fill="#000"/>
<rect x="493" y="505" width="5" height="48" fill="#000"/>
<rect x="494" y="506" width="3" height="46" fill="#26a69a"/>
<rect x="502" y="505" width="1" height="55" fill="#000"/>
<rect x="500" y="505" width="5" height="41" fill="#000"/>
<rect x="501" y="506" width="3" height="39" fill="#ff5252"/>
<rect x="508" y="528" width="1" height="34" fill="#000"/>
<rect x="506" y="540" width="5" height="6" fill="#000"/>
<rect x="507" y="541" width="3" height="4" fill="#26a69a"/>
<rect x="515" y="489" width="1" height="55" fill="#000"/>
<rect x="513" y="494" width="5" height="47" fill="#000"/>
<rect x="514" y="495" width="3" height="45" fill="#26a69a"/>
<rect x="521" y="451" width="1" height="47" fill="#000"/>
<rect x="519" y="456" width="5" height="39" fill="#000"/>
<rect x="520" y="457" width="3" height="37" fill="#26a69a"/>
<rect x="528" y="448" width="1" height="54" fill="#000"/>
<rect x="526" y="456" width="5" height="18" fill="#000"/>
<rect x="527" y="457" width="3" height="16" fill="#ff5252"/>
<rect x="535" y="469" width="1" height="49" fill="#000"/>
<rect x="533" y="473" width="5" height="32" fill="#000"/>
<rect x="534" y="474" width="3" height="30" fill="#ff5252"/>
<rect x="541" y="461" width="1" height="76" fill="#000"/>
<rect x="539" y="470" width="5" height="35" fill="#000"/>
<rect x="540" y="471" width="3" height="33" fill="#26a69a"/>
<rect x="548" y="417" width="1" height="79" fill="#000"/>
<rect x="546" y="419" width="5" height="52" fill="#000"/>
<rect x="547" y="420" width="3" height="50" fill="#26a69a"/>
<rect x="554" y="407" width="1" height="37" fill="#000"/>
<rect x="552" y="409" width="5" height="11" fill="#000"/>
<rect x="553" y="410" width="3" height="9" fill="#26a69a"/>
<rect x="561" y="409" width="1" height="50" fill="#000"/>
<rect x="559" y="409" width="5" height="23" fill="#000"/>
<rect x="560" y="410" width="3" height="21" fill="#ff5252"/>
<rect x="568" y="415" width="1" height="59" fill="#000"/>
<rect x="566" y="431" width="5" height="11" fill="#000"/>
<rect x="567" y="432" width="3" height="9" fill="#ff5252"/>
<rect x="574" y="393" width="1" height="50" fill="#000"/>
<rect x="572" y="398" width="5" height="44" fill="#000"/>
<rect x="573" y="399" width="3" height="42" fill="#26a69a"/>
<rect x="581" y="373" width="1" height="43" fill="#000"/>
<rect x="579" y="398" width="5" height="8" fill="#000"/>
<rect x="580" y="399" width="3" height="6" fill="#ff5252"/>
<rect x="587" y="405" width="1" height="53" fill="#000"/>
<rect x="585" y="405" width="5" height="47" fill="#000"/>
<rect x="586" y="406" width="3" height="45" fill="#ff5252"/>
<rect x="594" y="440" width="1" height="51" fill="#000"/>
<rect x="592" y="448" width="5" height="4" fill="#000"/>
<rect x="593" y="449" width="3" height="2" fill="#26a69a"/>
<rect x="601" y="432" width="1" height="76" fill="#000"/>
<rect x="599" y="448" width="5" height="35" fill="#000"/>
<rect x="600" y="449" width="3" height="33" fill="#ff5252"/>
<rect x="607" y="458" width="1" height="98" fill="#000"/>
<rect x="605" y="482" width="5" height="63" fill="#000"/>
<rect x="606" y="483" width="3" height="61" fill="#ff5252"/>
<rect x="614" y="537" width="1" height="75" fill="#000"/>
<rect x="612" y="544" width="5" height="44" fill="#000"/>
<rect x="613" y="545" width="3" height="42" fill="#ff5252"/>
<rect x="620" y="560" width="1" height="94" fill="#000"/>
<rect x="618" y="587" width="5" height="59" fill="#000"/>
<rect x="619" y="588" width="3" height="57" fill="#ff5252"/>
<rect x="627" y="630" width="1" height="56" fill="#000"/>
<rect x="625" y="645" width="5" height="29" fill="#000"/>
<rect x="626" y="646" width="3" height="27" fill="#ff5252"/>
<rect x="634" y="607" width="1" height="67" fill="#000"/>
<rect x="632" y="630" width="5" height="44" fill="#000"/>
<rect x="633" y="631" width="3" height="42" fill="#26a69a"/>
<rect x="640" y="534" width="1" height="124" fill="#000"/>
<rect x="638" y="544" width="5" height="87" fill="#000"/>
<rect x="639" y="545" width="3" height="85" fill="#26a69a"/>
<rect x="647" y="491" width="1" height="54" fill="#000"/>
<rect x="645" y="495" width="5" height="50" fill="#000"/>
<rect x="646" y="496" width="3" height="48" fill="#26a69a"/>
<rect x="653" y="443" width="1" height="62" fill="#000"/>
<rect x="651" y="444" width="5" height="52" fill="#000"/>
<rect x="652" y="445" width="3" height="50" fill="#26a69a"/>
<rect x="660" y="444" width="1" height="42" fill="#000"/>
<rect x="658" y="444" width="5" height="35" fill="#000"/>
<rect x="659" y="445" width="3" height="33" fill="#ff5252"/>
<rect x="667" y="449" width="1" height="54" fill="#000"/>
<rect x="665" y="478" width="5" height="21" fill="#000"/>
<rect x="666" y="479" width="3" height="19" fill="#ff5252"/>
<rect x="673" y="446" width="1" height="55" fill="#000"/>
<rect x="671" y="453" width="5" height="46" fill="#000"/>
<rect x="672" y="454" width="3" height="44" fill="#26a69a"/>
<rect x="680" y="447" width="1" height="87" fill="#000"/>
<rect x="678" y="453" width="5" height="73" fill="#000"/>
<rect x="679" y="454" width="3" height="71" fill="#ff5252"/>
<rect x="686" y="468" width="1" height="68" fill="#000"/>
<rect x="684" y="496" width="5" height="30" fill="#000"/>
<rect x="685" y="497" width="3" height="28" fill="#26a69a"/>
<rect x="693" y="485" width="1" height="71" fill="#000"/>
<rect x="691" y="496" width="5" height="39" fill="#000"/>
<rect x="692" y="497" width="3" height="37" fill="#ff5252"/>
<rect x="700" y="476" width="1" height="65" fill="#000"/>
<rect x="698" y="495" width="5" height="40" fill="#000"/>
<rect x="699" y="496" width="3" height="38" fill="#26a69a"/>
<rect x="706" y="458" width="1" height="47" fill="#000"/>
<rect x="704" y="461" width="5" height="35" fill="#000"/>
<rect x="705" y="462" width="3" height="33" fill="#26a69a"/>
<rect x="713" y="418" width="1" height="72" fill="#000"/>
<rect x="711" y="450" width="5" height="12" fill="#000"/>
<rect x="712" y="451" width="3" height="10" fill="#26a69a"/>
<rect x="719" y="426" width="1" height="27" fill="#000"/>
<rect x="717" y="446" width="5" height="5" fill="#000"/>
<rect x="718" y="447" width="3" height="3" fill="#26a69a"/>
<rect x="726" y="420" width="1" height="34" fill="#000"/>
<rect x="724" y="432" width="5" height="15" fill="#000"/>
<rect x="725" y="433" width="3" height="13" fill="#26a69a"/>
<rect x="733" y="428" width="1" height="25" fill="#000"/>
<rect x="731" y="432" width="5" height="18" fill="#000"/>
<rect x="732" y="433" width="3" height="16" fill="#ff5252"/>
<rect x="739" y="408" width="1" height="49" fill="#000"/>
<rect x="737" y="413" width="5" height="37" fill="#000"/>
<rect x="738" y="414" width="3" height="35" fill="#26a69a"/>
<rect x="746" y="411" width="1" height="27" fill="#000"/>
<rect x="744" y="413" width="5" height="3" fill="#000"/>
<rect x="745" y="414" width="3" height="1" fill="#ff5252"/>
<rect x="752" y="415" width="1" height="26" fill="#000"/>
<rect x="750" y="415" width="5" height="24" fill="#000"/>
<rect x="751" y="416" width="3" height="22" fill="#ff5252"/>
<rect x="759" y="432" width="1" height="27" fill="#000"/>
<rect x="757" y="438" width="5" height="14" fill="#000"/>
<rect x="758" y="439" width="3" height="12" fill="#ff5252"/>
<rect x="766" y="451" width="1" height="25" fill="#000"/>
<rect x="764" y="451" width="5" height="25" fill="#000"/>
<rect x="765" y="452" width="3" height="23" fill="#ff5252"/>
<rect x="772" y="468" width="1" height="50" fill="#000"/>
<rect x="770" y="475" width="5" height="24" fill="#000"/>
<rect x="771" y="476" width="3" height="22" fill="#ff5252"/>
<rect x="779" y="467" width="1" height="36" fill="#000"/>
<rect x="777" y="478" width="5" height="21" fill="#000"/>
<rect x="778" y="479" width="3" height="19" fill="#26a69a"/>
<rect x="785" y="468" width="1" height="47" fill="#000"/>
<rect x="783" y="477" width="5" height="37" fill="#000"/>
<rect x="784" y="478" width="3" height="35" fill="#ff5252"/>
<rect x="792" y="486" width="1" height="28" fill="#000"/>
<rect x="790" y="493" width="5" height="21" fill="#000"/>
<rect x="791" y="494" width="3" height="19" fill="#26a69a"/>
<rect x="799" y="468" width="1" height="46" fill="#000"/>
<rect x="797" y="493" width="5" height="20" fill="#000"/>
<rect x="798" y="494" width="3" height="18" fill="#ff5252"/>
<rect x="805" y="436" width="1" height="90" fill="#000"/>
<rect x="803" y="464" width="5" height="49" fill="#000"/>
<rect x="804" y="465" width="3" height="47" fill="#26a69a"/>
<rect x="812" y="464" width="1" height="52" fill="#000"/>
<rect x="810" y="464" width="5" height="26" fill="#000"/>
<rect x="811" y="465" width="3" height="24" fill="#ff5252"/>
<rect x="818" y="476" width="1" height="18" fill="#000"/>
<rect x="816" y="479" width="5" height="11" fill="#000"/>
<rect x="817" y="480" width="3" height="9" fill="#26a69a"/>
<rect x="825" y="471" width="1" height="23" fill="#000"/>
<rect x="823" y="479" width="5" height="1" fill="#000"/>
<rect x="832" y="430" width="1" height="50" fill="#000"/>
<rect x="830" y="430" width="5" height="50" fill="#000"/>
<rect x="831" y="431" width="3" height="48" fill="#26a69a"/>
<rect x="838" y="422" width="1" height="21" fill="#000"/>
<rect x="836" y="430" width="5" height="2" fill="#000"/>
<rect x="845" y="421" width="1" height="32" fill="#000"/>
<rect x="843" y="423" width="5" height="9" fill="#000"/>
<rect x="844" y="424" width="3" height="7" fill="#26a69a"/>
<rect x="851" y="410" width="1" height="30" fill="#000"/>
<rect x="849" y="423" width="5" height="5" fill="#000"/>
<rect x="850" y="424" width="3" height="3" fill="#ff5252"/>
<rect x="858" y="381" width="1" height="47" fill="#000"/>
<rect x="856" y="389" width="5" height="39" fill="#000"/>
<rect x="857" y="390" width="3" height="37" fill="#26a69a"/>
<rect x="865" y="304" width="1" height="86" fill="#000"/>
<rect x="863" y="320" width="5" height="70" fill="#000"/>
<rect x="864" y="321" width="3" height="68" fill="#26a69a"/>
<rect x="871" y="320" width="1" height="44" fill="#000"/>
<rect x="869" y="320" width="5" height="14" fill="#000"/>
<rect x="870" y="321" width="3" height="12" fill="#ff5252"/>
<rect x="878" y="303" width="1" height="49" fill="#000"/>
<rect x="876" y="333" width="5" height="6" fill="#000"/>
<rect x="877" y="334" width="3" height="4" fill="#ff5252"/>
<rect x="884" y="291" width="1" height="48" fill="#000"/>
<rect x="882" y="306" width="5" height="33" fill="#000"/>
<rect x="883" y="307" width="3" height="31" fill="#26a69a"/>
<rect x="891" y="261" width="1" height="53" fill="#000"/>
<rect x="889" y="270" width="5" height="37" fill="#000"/>
<rect x="890" y="271" width="3" height="35" fill="#26a69a"/>
<rect x="898" y="270" width="1" height="30" fill="#000"/>
<rect x="896" y="270" width="5" height="10" fill="#000"/>
<rect x="897" y="271" width="3" height="8" fill="#ff5252"/>
<rect x="904" y="261" width="1" height="38" fill="#000"/>
<rect x="902" y="279" width="5" height="11" fill="#000"/>
<rect x="903" y="280" width="3" height="9" fill="#ff5252"/>
<rect x="911" y="280" width="1" height="41" fill="#000"/>
<rect x="909" y="289" width="5" height="28" fill="#000"/>
<rect x="910" y="290" width="3" height="26" fill="#ff5252"/>
<rect x="917" y="305" width="1" height="29" fill="#000"/>
<rect x="915" y="316" width="5" height="1" fill="#000"/>
<rect x="924" y="296" width="1" height="26" fill="#000"/>
<rect x="922" y="316" width="5" height="3" fill="#000"/>
<rect x="923" y="317" width="3" height="1" fill="#ff5252"/>
<rect x="931" y="312" width="1" height="32" fill="#000"/>
<rect x="929" y="318" width="5" height="3" fill="#000"/>
<rect x="930" y="319" width="3" height="1" fill="#ff5252"/>
<rect x="937" y="311" width="1" height="48" fill="#000"/>
<rect x="935" y="320" width="5" height="39" fill="#000"/>
<rect x="936" y="321" width="3" height="37" fill="#ff5252"/>
<rect x="944" y="339" width="1" height="23" fill="#000"/>
<rect x="942" y="340" width="5" height="19" fill="#000"/>
<rect x="943" y="341" width="3" height="17" fill="#26a69a"/>
<rect x="950" y="332" width="1" height="19" fill="#000"/>
<rect x="948" y="340" width="5" height="11" fill="#000"/>
<rect x="949" y="341" width="3" height="9" fill="#ff5252"/>
<rect x="957" y="316" width="1" height="35" fill="#000"/>
<rect x="955" y="335" width="5" height="16" fill="#000"/>
<rect x="956" y="336" width="3" height="14" fill="#26a69a"/>
<rect x="964" y="314" width="1" height="22" fill="#000"/>
<rect x="962" y="316" width="5" height="20" fill="#000"/>
<rect x="963" y="317" width="3" height="18" fill="#26a69a"/>
<rect x="970" y="314" width="1" height="32" fill="#000"/>
<rect x="968" y="316" width="5" height="9" fill="#000"/>
<rect x="969" y="317" width="3" height="7" fill="#ff5252"/>
<rect x="977" y="315" width="1" height="37" fill="#000"/>
<rect x="975" y="324" width="5" height="23" fill="#000"/>
<rect x="976" y="325" width="3" height="21" fill="#ff5252"/>
<rect x="983" y="341" width="1" height="16" fill="#000"/>
<rect x="981" y="346" width="5" height="1" fill="#000"/>
<rect x="990" y="344" width="1" height="24" fill="#000"/>
<rect x="988" y="346" width="5" height="8" fill="#000"/>
<rect x="989" y="347" width="3" height="6" fill="#ff5252"/>
<rect x="997" y="346" width="1" height="56" fill="#000"/>
<rect x="995" y="353" width="5" height="29" fill="#000"/>
<rect x="996" y="354" width="3" height="27" fill="#ff5252"/>
<rect x="1003" y="374" width="1" height="22" fill="#000"/>
<rect x="1001" y="377" width="5" height="5" fill="#000"/>
<rect x="1002" y="378" width="3" height="3" fill="#26a69a"/>
<rect x="1010" y="370" width="1" height="18" fill="#000"/>
<rect x="1008" y="377" width="5" height="4" fill="#000"/>
<rect x="1009" y="378" width="3" height="2" fill="#ff5252"/>
<rect x="1016" y="368" width="1" height="28" fill="#000"/>
<rect x="1014" y="380" width="5" height="16" fill="#000"/>
<rect x="1015" y="381" width="3" height="14" fill="#ff5252"/>
<rect x="1023" y="389" width="1" height="54" fill="#000"/>
<rect x="1021" y="395" width="5" height="37" fill="#000"/>
<rect x="1022" y="396" width="3" height="35" fill="#ff5252"/>
<rect x="1030" y="399" width="1" height="33" fill="#000"/>
<rect x="1028" y="400" width="5" height="32" fill="#000"/>
<rect x="1029" y="401" width="3" height="30" fill="#26a69a"/>
<rect x="1036" y="371" width="1" height="30" fill="#000"/>
<rect x="1034" y="384" width="5" height="17" fill="#000"/>
<rect x="1035" y="385" width="3" height="15" fill="#26a69a"/>
<rect x="1043" y="349" width="1" height="51" fill="#000"/>
<rect x="1041" y="352" width="5" height="33" fill="#000"/>
<rect x="1042" y="353" width="3" height="31" fill="#26a69a"/>
<rect x="1049" y="334" width="1" height="42" fill="#000"/>
<rect x="1047" y="350" width="5" height="3" fill="#000"/>
<rect x="1048" y="351" width="3" height="1" fill="#26a69a"/>
<rect x="1056" y="333" width="1" height="25" fill="#000"/>
<rect x="1054" y="335" width="5" height="17" fill="#000"/>
<rect x="1055" y="336" width="3" height="15" fill="#26a69a"/>
<rect x="1063" y="297" width="1" height="45" fill="#000"/>
<rect x="1061" y="298" width="5" height="38" fill="#000"/>
<rect x="1062" y="299" width="3" height="36" fill="#26a69a"/>
<rect x="1069" y="292" width="1" height="45" fill="#000"/>
<rect x="1067" y="298" width="5" height="29" fill="#000"/>
<rect x="1068" y="299" width="3" height="27" fill="#ff5252"/>
<rect x="1076" y="326" width="1" height="73" fill="#000"/>
<rect x="1074" y="326" width="5" height="64" fill="#000"/>
<rect x="1075" y="327" width="3" height="62" fill="#ff5252"/>
<rect x="1082" y="368" width="1" height="50" fill="#000"/>
<rect x="1080" y="382" width="5" height="8" fill="#000"/>
<rect x="1081" y="383" width="3" height="6" fill="#26a69a"/>
<rect x="1089" y="344" width="1" height="56" fill="#000"/>
<rect x="1087" y="352" width="5" height="31" fill="#000"/>
<rect x="1088" y="353" width="3" height="29" fill="#26a69a"/>
<rect x="1096" y="321" width="1" height="34" fill="#000"/>
<rect x="1094" y="338" width="5" height="15" fill="#000"/>
<rect x="1095" y="339" width="3" height="13" fill="#26a69a"/>
<rect x="1102" y="298" width="1" height="86" fill="#000"/>
<rect x="1100" y="338" width="5" height="42" fill="#000"/>
<rect x="1101" y="339" width="3" height="40" fill="#ff5252"/>
<rect x="1109" y="339" width="1" height="43" fill="#000"/>
<rect x="1107" y="347" width="5" height="33" fill="#000"/>
<rect x="1108" y="348" width="3" height="31" fill="#26a69a"/>
<rect x="1115" y="290" width="1" height="59" fill="#000"/>
<rect x="1113" y="318" width="5" height="30" fill="#000"/>
<rect x="1114" y="319" width="3" height="28" fill="#26a69a"/>
<rect x="1122" y="316" width="1" height="52" fill="#000"/>
<rect x="1120" y="318" width="5" height="21" fill="#000"/>
<rect x="1121" y="319" width="3" height="19" fill="#ff5252"/>
<rect x="1129" y="309" width="1" height="41" fill="#000"/>
<rect x="1127" y="314" width="5" height="25" fill="#000"/>
<rect x="1128" y="315" width="3" height="23" fill="#26a69a"/>
<rect x="1135" y="293" width="1" height="32" fill="#000"/>
<rect x="1133" y="308" width="5" height="7" fill="#000"/>
<rect x="1134" y="309" width="3" height="5" fill="#26a69a"/>
<rect x="1142" y="292" width="1" height="27" fill="#000"/>
<rect x="1140" y="308" width="5" height="1" fill="#000"/>
<rect x="1148" y="275" width="1" height="45" fill="#000"/>
<rect x="1146" y="302" width="5" height="6" fill="#000"/>
<rect x="1147" y="303" width="3" height="4" fill="#26a69a"/>
<rect x="1155" y="260" width="1" height="54" fill="#000"/>
<rect x="1153" y="264" width="5" height="39" fill="#000"/>
<rect x="1154" y="265" width="3" height="37" fill="#26a69a"/>
<rect x="1162" y="245" width="1" height="45" fill="#000"/>
<rect x="1160" y="264" width="5" height="14" fill="#000"/>
<rect x="1161" y="265" width="3" height="12" fill="#ff5252"/>
<rect x="1168" y="249" width="1" height="38" fill="#000"/>
<rect x="1166" y="267" width="5" height="11" fill="#000"/>
<rect x="1167" y="268" width="3" height="9" fill="#26a69a"/>
<rect x="1175" y="251" width="1" height="46" fill="#000"/>
<rect x="1173" y="267" width="5" height="28" fill="#000"/>
<rect x="1174" y="268" width="3" height="26" fill="#ff5252"/>
<rect x="1181" y="285" width="1" height="19" fill="#000"/>
<rect x="1179" y="294" width="5" height="5" fill="#000"/>
<rect x="1180" y="295" width="3" height="3" fill="#ff5252"/>
<rect x="1188" y="286" width="1" height="22" fill="#000"/>
<rect x="1186" y="298" width="5" height="9" fill="#000"/>
<rect x="1187" y="299" width="3" height="7" fill="#ff5252"/>
<rect x="1195" y="306" width="1" height="34" fill="#000"/>
<rect x="1193" y="306" width="5" height="22" fill="#000"/>
<rect x="1194" y="307" width="3" height="20" fill="#ff5252"/>
<rect x="1201" y="314" width="1" height="42" fill="#000"/>
<rect x="1199" y="327" width="5" height="26" fill="#000"/>
<rect x="1200" y="328" width="3" height="24" fill="#ff5252"/>
<rect x="1208" y="339" width="1" height="89" fill="#000"/>
<rect x="1206" y="352" width="5" height="53" fill="#000"/>
<rect x="1207" y="353" width="3" height="51" fill="#ff5252"/>
<rect x="1214" y="344" width="1" height="61" fill="#000"/>
<rect x="1212" y="356" width="5" height="49" fill="#000"/>
<rect x="1213" y="357" width="3" height="47" fill="#26a69a"/>
<rect x="1221" y="335" width="1" height="83" fill="#000"/>
<rect x="1219" y="356" width="5" height="37" fill="#000"/>
<rect x="1220" y="357" width="3" height="35" fill="#ff5252"/>
<rect x="1228" y="345" width="1" height="223" fill="#000"/>
<rect x="1226" y="392" width="5" height="141" fill="#000"/>
<rect x="1227" y="393" width="3" height="139" fill="#ff5252"/>
<rect x="1234" y="425" width="1" height="123" fill="#000"/>
<rect x="1232" y="438" width="5" height="95" fill="#000"/>
<rect x="1233" y="439" width="3" height="93" fill="#26a69a"/>
<rect x="1241" y="390" width="1" height="94" fill="#000"/>
<rect x="1239" y="438" width="5" height="22" fill="#000"/>
<rect x="1240" y="439" width="3" height="20" fill="#ff5252"/>
<rect x="1247" y="389" width="1" height="72" fill="#000"/>
<rect x="1245" y="400" width="5" height="60" fill="#000"/>
<rect x="1246" y="401" width="3" height="58" fill="#26a69a"/>
<rect x="1254" y="378" width="1" height="59" fill="#000"/>
<rect x="1252" y="400" width="5" height="11" fill="#000"/>
<rect x="1253" y="401" width="3" height="9" fill="#ff5252"/>
<rect x="1261" y="379" width="1" height="63" fill="#000"/>
<rect x="1259" y="410" width="5" height="6" fill="#000"/>
<rect x="1260" y="411" width="3" height="4" fill="#ff5252"/>
<rect x="1267" y="397" width="1" height="72" fill="#000"/>
<rect x="1265" y="415" width="5" height="14" fill="#000"/>
<rect x="1266" y="416" width="3" height="12" fill="#ff5252"/>
<rect x="1274" y="336" width="1" height="102" fill="#000"/>
<rect x="1272" y="355" width="5" height="74" fill="#000"/>
<rect x="1273" y="356" width="3" height="72" fill="#26a69a"/>
<rect x="1280" y="337" width="1" height="80" fill="#000"/>
<rect x="1278" y="355" width="5" height="42" fill="#000"/>
<rect x="1279" y="356" width="3" height="40" fill="#ff5252"/>
<rect x="1287" y="366" width="1" height="85" fill="#000"/>
<rect x="1285" y="388" width="5" height="9" fill="#000"/>
<rect x="1286" y="389" width="3" height="7" fill="#26a69a"/>
<rect x="1294" y="350" width="1" height="44" fill="#000"/>
<rect x="1292" y="368" width="5" height="21" fill="#000"/>
<rect x="1293" y="369" width="3" height="19" fill="#26a69a"/>
<rect x="1300" y="303" width="1" height="70" fill="#000"/>
<rect x="1298" y="305" width="5" height="64" fill="#000"/>
<rect x="1299" y="306" width="3" height="62" fill="#26a69a"/>
<rect x="1307" y="299" width="1" height="56" fill="#000"/>
<rect x="1305" y="305" width="5" height="42" fill="#000"/>
<rect x="1306" y="306" width="3" height="40" fill="#ff5252"/>
<rect x="1313" y="292" width="1" height="55" fill="#000"/>
<rect x="1311" y="314" width="5" height="33" fill="#000"/>
<rect x="1312" y="315" width="3" height="31" fill="#26a69a"/>
<rect x="1320" y="308" width="1" height="91" fill="#000"/>
<rect x="1318" y="314" width="5" height="63" fill="#000"/>
<rect x="1319" y="315" width="3" height="61" fill="#ff5252"/>
<rect x="1327" y="361" width="1" height="29" fill="#000"/>
<rect x="1325" y="371" width="5" height="6" fill="#000"/>
<rect x="1326" y="372" width="3" height="4" fill="#26a69a"/>
<rect x="1333" y="334" width="1" height="55" fill="#000"/>
<rect x="1331" y="339" width="5" height="33" fill="#000"/>
<rect x="1332" y="340" width="3" height="31" fill="#26a69a"/>
<rect x="1340" y="320" width="1" height="31" fill="#000"/>
<rect x="1338" y="327" width="5" height="13" fill="#000"/>
<rect x="1339" y="328" width="3" height="11" fill="#26a69a"/>
<rect x="1346" y="298" width="1" height="43" fill="#000"/>
<rect x="1344" y="298" width="5" height="30" fill="#000"/>
<rect x="1345" y="299" width="3" height="28" fill="#26a69a"/>
<rect x="1353" y="282" width="1" height="28" fill="#000"/>
<rect x="1351" y="298" width="5" height="1" fill="#000"/>
<rect x="1360" y="287" width="1" height="21" fill="#000"/>
<rect x="1358" y="297" width="5" height="9" fill="#000"/>
<rect x="1359" y="298" width="3" height="7" fill="#ff5252"/>
<rect x="1366" y="299" width="1" height="18" fill="#000"/>
<rect x="1364" y="305" width="5" height="5" fill="#000"/>
<rect x="1365" y="306" width="3" height="3" fill="#ff5252"/>
<rect x="1373" y="304" width="1" height="29" fill="#000"/>
<rect x="1371" y="309" width="5" height="23" fill="#000"/>
<rect x="1372" y="310" width="3" height="21" fill="#ff5252"/>
<rect x="1379" y="317" width="1" height="30" fill="#000"/>
<rect x="1377" y="327" width="5" height="5" fill="#000"/>
<rect x="1378" y="328" width="3" height="3" fill="#26a69a"/>
<rect x="1386" y="325" width="1" height="49" fill="#000"/>
<rect x="1384" y="327" width="5" height="15" fill="#000"/>
<rect x="1385" y="328" width="3" height="13" fill="#ff5252"/>
<rect x="1393" y="335" width="1" height="28" fill="#000"/>
<rect x="1391" y="341" width="5" height="22" fill="#000"/>
<rect x="1392" y="342" width="3" height="20" fill="#ff5252"/>
<rect x="1399" y="343" width="1" height="23" fill="#000"/>
<rect x="1397" y="352" width="5" height="11" fill="#000"/>
<rect x="1398" y="353" width="3" height="9" fill="#26a69a"/>
<rect x="1406" y="308" width="1" height="54" fill="#000"/>
<rect x="1404" y="352" width="5" height="9" fill="#000"/>
<rect x="1405" y="353" width="3" height="7" fill="#ff5252"/>
<rect x="1412" y="330" width="1" height="31" fill="#000"/>
<rect x="1410" y="352" width="5" height="9" fill="#000"/>
<rect x="1411" y="353" width="3" height="7" fill="#26a69a"/>
<rect x="1419" y="304" width="1" height="49" fill="#000"/>
<rect x="1417" y="320" width="5" height="33" fill="#000"/>
<rect x="1418" y="321" width="3" height="31" fill="#26a69a"/>
<rect x="1426" y="302" width="1" height="19" fill="#000"/>
<rect x="1424" y="304" width="5" height="17" fill="#000"/>
<rect x="1425" y="305" width="3" height="15" fill="#26a69a"/>
<rect x="1432" y="302" width="1" height="51" fill="#000"/>
<rect x="1430" y="304" width="5" height="49" fill="#000"/>
<rect x="1431" y="305" width="3" height="47" fill="#ff5252"/>
<rect x="1439" y="325" width="1" height="34" fill="#000"/>
<rect x="1437" y="325" width="5" height="28" fill="#000"/>
<rect x="1438" y="326" width="3" height="26" fill="#26a69a"/>
<rect x="1445" y="326" width="1" height="12" fill="#000"/>
<rect x="1443" y="326" width="5" height="3" fill="#000"/>
<rect x="1444" y="327" width="3" height="1" fill="#ff5252"/>
<rect x="1452" y="316" width="1" height="15" fill="#000"/>
<rect x="1450" y="322" width="5" height="7" fill="#000"/>
<rect x="1451" y="323" width="3" height="5" fill="#26a69a"/>
<rect x="1459" y="300" width="1" height="23" fill="#000"/>
<rect x="1457" y="304" width="5" height="19" fill="#000"/>
<rect x="1458" y="305" width="3" height="17" fill="#26a69a"/>
<rect x="1465" y="295" width="1" height="35" fill="#000"/>
<rect x="1463" y="295" width="5" height="10" fill="#000"/>
<rect x="1464" y="296" width="3" height="8" fill="#26a69a"/>
<rect x="1472" y="266" width="1" height="36" fill="#000"/>
<rect x="1470" y="277" width="5" height="19" fill="#000"/>
<rect x="1471" y="278" width="3" height="17" fill="#26a69a"/>
<rect x="1478" y="255" width="1" height="27" fill="#000"/>
<rect x="1476" y="255" width="5" height="23" fill="#000"/>
<rect x="1477" y="256" width="3" height="21" fill="#26a69a"/>
<rect x="1485" y="241" width="1" height="38" fill="#000"/>
<rect x="1483" y="255" width="5" height="20" fill="#000"/>
<rect x="1484" y="256" width="3" height="18" fill="#ff5252"/>
<rect x="1492" y="253" width="1" height="41" fill="#000"/>
<rect x="1490" y="265" width="5" height="10" fill="#000"/>
<rect x="1491" y="266" width="3" height="8" fill="#26a69a"/>
<rect x="1498" y="246" width="1" height="36" fill="#000"/>
<rect x="1496" y="260" width="5" height="6" fill="#000"/>
<rect x="1497" y="261" width="3" height="4" fill="#26a69a"/>
<rect x="1505" y="218" width="1" height="42" fill="#000"/>
<rect x="1503" y="220" width="5" height="40" fill="#000"/>
<rect x="1504" y="221" width="3" height="38" fill="#26a69a"/>
<rect x="1511" y="186" width="1" height="52" fill="#000"/>
<rect x="1509" y="221" width="5" height="1" fill="#000"/>
<rect x="1518" y="135" width="1" height="102" fill="#000"/>
<rect x="1516" y="141" width="5" height="82" fill="#000"/>
<rect x="1517" y="142" width="3" height="80" fill="#26a69a"/>
<rect x="1525" y="100" width="1" height="56" fill="#000"/>
<rect x="1523" y="141" width="5" height="5" fill="#000"/>
<rect x="1524" y="142" width="3" height="3" fill="#ff5252"/>
<rect x="1531" y="117" width="1" height="58" fill="#000"/>
<rect x="1529" y="145" width="5" height="24" fill="#000"/>
<rect x="1530" y="146" width="3" height="22" fill="#ff5252"/>
<rect x="1538" y="150" width="1" height="22" fill="#000"/>
<rect x="1536" y="154" width="5" height="15" fill="#000"/>
<rect x="1537" y="155" width="3" height="13" fill="#26a69a"/>
<rect x="1544" y="123" width="1" height="39" fill="#000"/>
<rect x="1542" y="140" width="5" height="15" fill="#000"/>
<rect x="1543" y="141" width="3" height="13" fill="#26a69a"/>
<rect x="1551" y="122" width="1" height="25" fill="#000"/>
<rect x="1549" y="140" width="5" height="7" fill="#000"/>
<rect x="1550" y="141" width="3" height="5" fill="#ff5252"/>
<rect x="1558" y="129" width="1" height="29" fill="#000"/>
<rect x="1556" y="133" width="5" height="14" fill="#000"/>
<rect x="1557" y="134" width="3" height="12" fill="#26a69a"/>
<rect x="1564" y="111" width="1" height="25" fill="#000"/>
<rect x="1562" y="133" width="5" height="3" fill="#000"/>
<rect x="1563" y="134" width="3" height="1" fill="#ff5252"/>
<rect x="1571" y="82" width="1" height="54" fill="#000"/>
<rect x="1569" y="85" width="5" height="51" fill="#000"/>
<rect x="1570" y="86" width="3" height="49" fill="#26a69a"/>
<rect x="1577" y="57" width="1" height="29" fill="#000"/>
<rect x="1575" y="68" width="5" height="18" fill="#000"/>
<rect x="1576" y="69" width="3" height="16" fill="#26a69a"/>
<rect x="1584" y="35" width="1" height="38" fill="#000"/>
<rect x="1582" y="68" width="5" height="5" fill="#000"/>
<rect x="1583" y="69" width="3" height="3" fill="#ff5252"/>
<rect x="1591" y="32" width="1" height="41" fill="#000"/>
<rect x="1589" y="53" width="5" height="20" fill="#000"/>
<rect x="1590" y="54" width="3" height="18" fill="#26a69a"/>
<rect x="1597" y="53" width="1" height="55" fill="#000"/>
<rect x="1595" y="53" width="5" height="32" fill="#000"/>
<rect x="1596" y="54" width="3" height="30" fill="#ff5252"/>
<rect x="1604" y="59" width="1" height="31" fill="#000"/>
<rect x="1602" y="67" width="5" height="18" fill="#000"/>
<rect x="1603" y="68" width="3" height="16" fill="#26a69a"/>
<rect x="1610" y="61" width="1" height="50" fill="#000"/>
<rect x="1608" y="67" width="5" height="38" fill="#000"/>
<rect x="1609" y="68" width="3" height="36" fill="#ff5252"/>
<rect x="1617" y="70" width="1" height="36" fill="#000"/>
<rect x="1615" y="72" width="5" height="33" fill="#000"/>
<rect x="1616" y="73" width="3" height="31" fill="#26a69a"/>
<rect x="1624" y="66" width="1" height="21" fill="#000"/>
<rect x="1622" y="72" width="5" height="9" fill="#000"/>
<rect x="1623" y="73" width="3" height="7" fill="#ff5252"/>
<rect x="1630" y="65" width="1" height="33" fill="#000"/>
<rect x="1628" y="80" width="5" height="3" fill="#000"/>
<rect x="1629" y="81" width="3" height="1" fill="#ff5252"/>
<rect x="1637" y="80" width="1" height="20" fill="#000"/>
<rect x="1635" y="82" width="5" height="3" fill="#000"/>
<rect x="1636" y="83" width="3" height="1" fill="#ff5252"/>
<rect x="1643" y="73" width="1" height="58" fill="#000"/>
<rect x="1641" y="84" width="5" height="36" fill="#000"/>
<rect x="1642" y="85" width="3" height="34" fill="#ff5252"/>
<rect x="1650" y="111" width="1" height="29" fill="#000"/>
<rect x="1648" y="119" width="5" height="12" fill="#000"/>
<rect x="1649" y="120" width="3" height="10" fill="#ff5252"/>
<rect x="1657" y="129" width="1" height="60" fill="#000"/>
<rect x="1655" y="130" width="5" height="44" fill="#000"/>
<rect x="1656" y="131" width="3" height="42" fill="#ff5252"/>
<rect x="1663" y="151" width="1" height="23" fill="#000"/>
<rect x="1661" y="152" width="5" height="22" fill="#000"/>
<rect x="1662" y="153" width="3" height="20" fill="#26a69a"/>
<rect x="1670" y="152" width="1" height="21" fill="#000"/>
<rect x="1668" y="152" width="5" height="21" fill="#000"/>
<rect x="1669" y="153" width="3" height="19" fill="#ff5252"/>
<rect x="1676" y="172" width="1" height="71" fill="#000"/>
<rect x="1674" y="172" width="5" height="63" fill="#000"/>
<rect x="1675" y="173" width="3" height="61" fill="#ff5252"/>
<rect x="1683" y="188" width="1" height="47" fill="#000"/>
<rect x="1681" y="223" width="5" height="12" fill="#000"/>
<rect x="1682" y="224" width="3" height="10" fill="#26a69a"/>
<rect x="1690" y="207" width="1" height="48" fill="#000"/>
<rect x="1688" y="223" width="5" height="26" fill="#000"/>
<rect x="1689" y="224" width="3" height="24" fill="#ff5252"/>
<rect x="1696" y="237" width="1" height="26" fill="#000"/>
<rect x="1694" y="248" width="5" height="14" fill="#000"/>
<rect x="1695" y="249" width="3" height="12" fill="#ff5252"/>
<rect x="1703" y="245" width="1" height="67" fill="#000"/>
<rect x="1701" y="261" width="5" height="13" fill="#000"/>
<rect x="1702" y="262" width="3" height="11" fill="#ff5252"/>
<rect x="1709" y="245" width="1" height="97" fill="#000"/>
<rect x="1707" y="273" width="5" height="60" fill="#000"/>
<rect x="1708" y="274" width="3" height="58" fill="#ff5252"/>
<rect x="1716" y="278" width="1" height="76" fill="#000"/>
<rect x="1714" y="286" width="5" height="47" fill="#000"/>
<rect x="1715" y="287" width="3" height="45" fill="#26a69a"/>
<rect x="1723" y="278" width="1" height="69" fill="#000"/>
<rect x="1721" y="286" width="5" height="7" fill="#000"/>
<rect x="1722" y="287" width="3" height="5" fill="#ff5252"/>
<rect x="1729" y="222" width="1" height="108" fill="#000"/>
<rect x="1727" y="243" width="5" height="50" fill="#000"/>
<rect x="1728" y="244" width="3" height="48" fill="#26a69a"/>
<rect x="1736" y="215" width="1" height="53" fill="#000"/>
<rect x="1734" y="243" width="5" height="25" fill="#000"/>
<rect x="1735" y="244" width="3" height="23" fill="#ff5252"/>
<rect x="1742" y="219" width="1" height="52" fill="#000"/>
<rect x="1740" y="227" width="5" height="41" fill="#000"/>
<rect x="1741" y="228" width="3" height="39" fill="#26a69a"/>
<rect x="1749" y="202" width="1" height="83" fill="#000"/>
<rect x="1747" y="227" width="5" height="20" fill="#000"/>
<rect x="1748" y="228" width="3" height="18" fill="#ff5252"/>
<rect x="1756" y="230" width="1" height="44" fill="#000"/>
<rect x="1754" y="233" width="5" height="14" fill="#000"/>
<rect x="1755" y="234" width="3" height="12" fill="#26a69a"/>
</g>
<!-- arrow -->
<g stroke="#f44336" stroke-width="2" fill="none" stroke-linecap="round" stroke-linejoin="round">
<path d="M812.4,399.7 L883.8,200.8"/>
<path d="M872.5,205.9 L883.8,200.8 L891,212.5"/>
</g>
<!-- callout -->
<path d="M839.5,560 L922.5,560 L858.5,447.5 L938.5,560 L1023,560 Q1031,560 1031,568 L1031,586.5 Q1031,594.5 1023,594.5 L839.5,594.5 Q831.5,594.5 831.5,586.5 L831.5,568 Q831.5,560 839.5,560 Z" fill="rgba(0,188,212,0.2)" stroke="#22c1d9" stroke-width="1.1" stroke-linejoin="round"/>
<text x="842.3" y="581" style="font-weight:bold;font-size:14px;fill:#1a1c24" textLength="178" lengthAdjust="spacingAndGlyphs">Zveřejnění japonského hdp</text>
<!-- price axis -->
<g clip-path="url(#paxis)"><text x="1770.4" y="31.8" style="fill:#2e323c" textLength="41.8" lengthAdjust="spacingAndGlyphs">116.200</text><text x="1770.4" y="73.9" style="fill:#2e323c" textLength="41.8" lengthAdjust="spacingAndGlyphs">116.150</text><text x="1770.4" y="116.0" style="fill:#2e323c" textLength="41.8" lengthAdjust="spacingAndGlyphs">116.100</text><text x="1770.4" y="158.2" style="fill:#2e323c" textLength="41.8" lengthAdjust="spacingAndGlyphs">116.050</text><text x="1770.4" y="200.3" style="fill:#2e323c" textLength="41.8" lengthAdjust="spacingAndGlyphs">116.000</text><text x="1770.4" y="242.4" style="fill:#2e323c" textLength="41.8" lengthAdjust="spacingAndGlyphs">115.950</text><text x="1770.4" y="284.5" style="fill:#2e323c" textLength="41.8" lengthAdjust="spacingAndGlyphs">115.900</text><text x="1770.4" y="326.6" style="fill:#2e323c" textLength="41.8" lengthAdjust="spacingAndGlyphs">115.850</text><text x="1770.4" y="368.8" style="fill:#2e323c" textLength="41.8" lengthAdjust="spacingAndGlyphs">115.800</text><text x="1770.4" y="410.9" style="fill:#2e323c" textLength="41.8" lengthAdjust="spacingAndGlyphs">115.750</text><text x="1770.4" y="453.0" style="fill:#2e323c" textLength="41.8" lengthAdjust="spacingAndGlyphs">115.700</text><text x="1770.4" y="495.1" style="fill:#2e323c" textLength="41.8" lengthAdjust="spacingAndGlyphs">115.650</text><text x="1770.4" y="537.2" style="fill:#2e323c" textLength="41.8" lengthAdjust="spacingAndGlyphs">115.600</text><text x="1770.4" y="579.4" style="fill:#2e323c" textLength="41.8" lengthAdjust="spacingAndGlyphs">115.550</text><text x="1770.4" y="621.5" style="fill:#2e323c" textLength="41.8" lengthAdjust="spacingAndGlyphs">115.500</text><text x="1770.4" y="663.6" style="fill:#2e323c" textLength="41.8" lengthAdjust="spacingAndGlyphs">115.450</text><text x="1770.4" y="705.7" style="fill:#2e323c" textLength="41.8" lengthAdjust="spacingAndGlyphs">115.400</text><text x="1770.4" y="747.8" style="fill:#2e323c" textLength="41.8" lengthAdjust="spacingAndGlyphs">115.350</text><text x="1770.4" y="790.0" style="fill:#2e323c" textLength="41.8" lengthAdjust="spacingAndGlyphs">115.300</text></g>
<rect x="1778.5" y="33.5" width="27" height="18" rx="4" ry="4" fill="#fff" stroke="#d1d4dc" stroke-width="1"/>
<text x="1782.6" y="46.8" textLength="19" lengthAdjust="spacingAndGlyphs">JPY</text>
<rect x="1760" y="225" width="59" height="17" rx="2" ry="2" fill="#26a69a"/>
<text x="1770.5" y="237.9" style="font-weight:bold;fill:#fff" textLength="42" lengthAdjust="spacingAndGlyphs">115.956</text>
<!-- time axis -->
<text x="26.0" y="833" textLength="29" lengthAdjust="spacingAndGlyphs">18:00</text><text x="195.2" y="833" textLength="6.5" lengthAdjust="spacingAndGlyphs">8</text><text x="342.0" y="833" textLength="29" lengthAdjust="spacingAndGlyphs">06:00</text><text x="501.0" y="833" textLength="29" lengthAdjust="spacingAndGlyphs">12:00</text><text x="659.0" y="833" textLength="29" lengthAdjust="spacingAndGlyphs">18:00</text><text x="829.2" y="833" textLength="6.5" lengthAdjust="spacingAndGlyphs">9</text><text x="976.0" y="833" textLength="29" lengthAdjust="spacingAndGlyphs">06:00</text><text x="1134.0" y="833" textLength="29" lengthAdjust="spacingAndGlyphs">12:00</text><text x="1293.0" y="833" textLength="29" lengthAdjust="spacingAndGlyphs">18:00</text><text x="1459.0" y="833" textLength="13" lengthAdjust="spacingAndGlyphs">10</text><text x="1610.0" y="833" textLength="29" lengthAdjust="spacingAndGlyphs">06:00</text>
<!-- logo -->
<g fill="#131722">
<path d="M10,855.1 H17.8 V864.6 H13.9 V858.9 H10 Z"/>
<circle cx="21.1" cy="857" r="1.9"/>
<path d="M24.6,855.1 H29.3 L25.7,864.6 H21.1 Z"/>
</g>
<text x="33.2" y="864.6" style="font-size:12.3px;fill:#2a2e39" textLength="70" lengthAdjust="spacingAndGlyphs">TradingView</text>
</svg>
</body></html>
